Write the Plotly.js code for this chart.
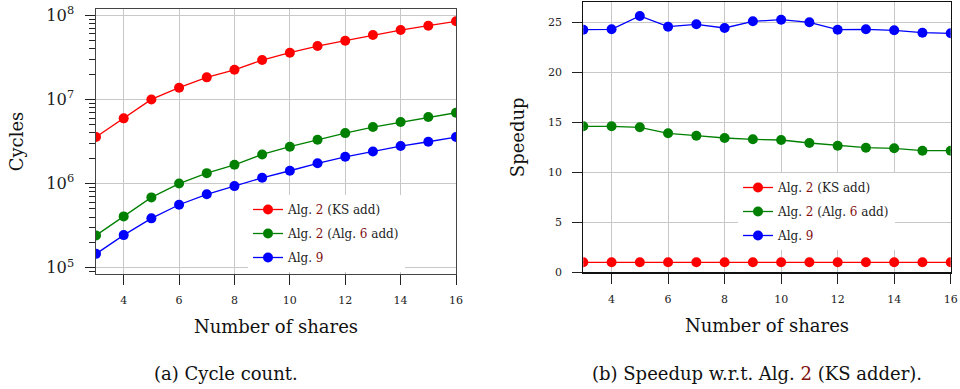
<!DOCTYPE html>
<html>
<head>
<meta charset="utf-8">
<script src="https://cdn.plot.ly/plotly-3.0.1.min.js"></script>
<style>html,body{margin:0;padding:0;background:#fff;}#chart{width:960px;height:389px;}</style>
</head>
<body>
<div id="chart"></div>
<script>
// ---- data ----
const shares = [3, 4, 5, 6, 7, 8, 9, 10, 11, 12, 13, 14, 15, 16];
const xTickVals = [4, 6, 8, 10, 12, 14, 16];

const cyclesKS   = [3.57e6, 5.96e6, 1.00e7, 1.38e7, 1.83e7, 2.25e7, 2.94e7, 3.59e7, 4.31e7, 4.99e7, 5.83e7, 6.68e7, 7.52e7, 8.49e7];
const cyclesAlg6 = [2.42e5, 4.07e5, 6.85e5, 1.00e6, 1.33e6, 1.67e6, 2.22e6, 2.74e6, 3.32e6, 3.98e6, 4.70e6, 5.38e6, 6.18e6, 6.95e6];
const cyclesAlg9 = [1.46e5, 2.44e5, 3.86e5, 5.60e5, 7.45e5, 9.33e5, 1.17e6, 1.42e6, 1.74e6, 2.08e6, 2.41e6, 2.79e6, 3.14e6, 3.57e6];

const speedKS   = [1, 1, 1, 1, 1, 1, 1, 1, 1, 1, 1, 1, 1, 1];
const speedAlg6 = [14.6, 14.6, 14.5, 13.9, 13.66, 13.43, 13.3, 13.23, 12.93, 12.66, 12.46, 12.4, 12.16, 12.16];
const speedAlg9 = [24.26, 24.3, 25.63, 24.56, 24.8, 24.43, 25.1, 25.26, 25.0, 24.26, 24.3, 24.2, 23.96, 23.9];

const ref = '<span style="color:#7f1010">';
const names = [
  'Alg. ' + ref + '2</span> (KS add)',
  'Alg. ' + ref + '2</span> (Alg. ' + ref + '6</span> add)',
  'Alg. ' + ref + '9</span>'
];
const colors = ['#ff0000', '#008000', '#0000ff'];

const FONT = '"DejaVu Serif", "Liberation Serif", serif';

function tr(y, i, xa, ya, leg) {
  return {
    x: shares, y: y, xaxis: xa, yaxis: ya, type: 'scatter', mode: 'lines+markers',
    name: names[i], legend: leg, legendgroup: leg + i,
    line: {color: colors[i], width: 1.3},
    marker: {color: colors[i], size: 10}
  };
}

const data = [
  tr(cyclesKS, 0, 'x', 'y', 'legend'),
  tr(cyclesAlg6, 1, 'x', 'y', 'legend'),
  tr(cyclesAlg9, 2, 'x', 'y', 'legend'),
  tr(speedKS, 0, 'x2', 'y2', 'legend2'),
  tr(speedAlg6, 1, 'x2', 'y2', 'legend2'),
  tr(speedAlg9, 2, 'x2', 'y2', 'legend2')
];

const axBase = {
  showline: true, mirror: true, linewidth: 1.2,
  showgrid: true, gridcolor: '#c8c8c8', gridwidth: 1,
  ticks: 'outside', ticklen: 10, tickwidth: 1, tickcolor: '#222',
  zeroline: false, tickfont: {family: FONT, size: 11, color: '#222'}
};

const layout = {
  width: 960, height: 389,
  margin: {l: 0, r: 0, t: 0, b: 0},
  paper_bgcolor: '#fff', plot_bgcolor: '#fff',
  font: {family: FONT, color: '#111'},
  xaxis: Object.assign({}, axBase, {
    domain: [96/960, 456/960], range: [3, 16], tickmode: 'array', tickvals: xTickVals,
    linecolor: '#444', ticklabelstandoff: 6,
    title: {text: 'Number of shares', font: {family: FONT, size: 18, color: '#111'}, standoff: 14}
  }),
  yaxis: Object.assign({}, axBase, {
    domain: [1 - 274/389, 1 - 9/389], type: 'log', range: [4.925, 8.075], dtick: 1,
    exponentformat: 'power', linecolor: '#444', ticklabelstandoff: 8,
    tickfont: {family: FONT, size: 13, color: '#222'},
    minor: {ticks: 'outside', ticklen: 6, tickcolor: '#222', dtick: 'D1', showgrid: false},
    title: {text: 'Cycles', font: {family: FONT, size: 18, color: '#111'}, standoff: 18}
  }),
  xaxis2: Object.assign({}, axBase, {
    domain: [583.3/960, 950.7/960], range: [3, 16], tickmode: 'array', tickvals: xTickVals,
    linecolor: '#111', anchor: 'y2', ticklabelstandoff: 6,
    title: {text: 'Number of shares', font: {family: FONT, size: 18, color: '#111'}, standoff: 14}
  }),
  yaxis2: Object.assign({}, axBase, {
    domain: [1 - 272.3/389, 1 - 2.3/389], range: [0, 27], dtick: 5, anchor: 'x2',
    linecolor: '#111', ticklabelstandoff: 8,
    title: {text: 'Speedup', font: {family: FONT, size: 18, color: '#111'}, standoff: 18}
  }),
  legend: {
    x: 248/960, y: 1 - 195/389, xanchor: 'left', yanchor: 'top',
    bgcolor: '#fff', borderwidth: 0, tracegroupgap: 5,
    entrywidth: 200, entrywidthmode: 'pixels',
    font: {family: FONT, size: 12, color: '#222'}
  },
  legend2: {
    x: 738/960, y: 1 - 173/389, xanchor: 'left', yanchor: 'top',
    bgcolor: '#fff', borderwidth: 0, tracegroupgap: 5,
    entrywidth: 205, entrywidthmode: 'pixels',
    font: {family: FONT, size: 12, color: '#222'}
  },
  annotations: [
    {text: '(a) Cycle count.', xref: 'paper', yref: 'paper', x: 226/960, y: 1 - 373/389,
     xanchor: 'center', yanchor: 'middle', showarrow: false, font: {family: FONT, size: 18, color: '#111'}},
    {text: '(b) Speedup w.r.t. Alg. ' + ref + '2</span> (KS adder).', xref: 'paper', yref: 'paper', x: 757/960, y: 1 - 373/389,
     xanchor: 'center', yanchor: 'middle', showarrow: false, font: {family: FONT, size: 18, color: '#111'}}
  ]
};

Plotly.newPlot('chart', data, layout, {staticPlot: true, displayModeBar: false});
</script>
</body>
</html>
